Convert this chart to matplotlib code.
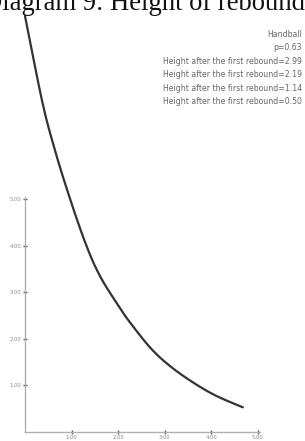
import matplotlib
matplotlib.use("Agg")
import matplotlib.pyplot as plt
import numpy as np

# data
x_vals = [0.0, 0.36, 0.6, 0.92, 1.3, 1.61, 2.0, 2.25, 2.7, 3.11, 3.6, 4.1, 4.68]
y_vals = [8.93, 7.14, 6.2, 5.15, 4.05, 3.35, 2.72, 2.36, 1.8, 1.42, 1.07, 0.78, 0.53]
tick_vals = [1, 2, 3, 4, 5]
tick_labels = ["1.00", "2.00", "3.00", "4.00", "5.00"]
legend_lines = ["Handball", "p=0.63",
                "Height after the first rebound=2.99",
                "Height after the first rebound=2.19",
                "Height after the first rebound=1.14",
                "Height after the first rebound=0.50"]
title = "Diagram 9: Height of rebound"


def smooth(xs, ys, n=20):
    """Catmull-Rom path through the read points (drawing only)."""
    p = np.column_stack([xs, ys]).astype(float)
    p = np.vstack([2 * p[0] - p[1], p, 2 * p[-1] - p[-2]])
    out = []
    t = np.linspace(0, 1, n, endpoint=False)[:, None]
    for i in range(1, len(p) - 2):
        p0, p1, p2, p3 = p[i - 1], p[i], p[i + 1], p[i + 2]
        seg = 0.5 * ((2 * p1) + (-p0 + p2) * t + (2 * p0 - 5 * p1 + 4 * p2 - p3) * t ** 2
                     + (-p0 + 3 * p1 - 3 * p2 + p3) * t ** 3)
        out.append(seg)
    out.append(p[-2][None, :])
    out = np.vstack(out)
    return out[:, 0], out[:, 1]


W, H = 305, 441
fig = plt.figure(figsize=(W / 100, H / 100), dpi=100)
ax = fig.add_axes([25 / W, 9 / H, 256 / W, 416 / H])
ax.set_xlim(0, 5.5)
ax.set_ylim(0, 8.93)
sx, sy = smooth(x_vals, y_vals)
ax.plot(sx, sy, color="#333333", lw=1.6, clip_on=False, solid_capstyle="round")

for s in ["top", "right"]:
    ax.spines[s].set_visible(False)
for s in ["left", "bottom"]:
    ax.spines[s].set_color("#b0b0b0")
    ax.spines[s].set_linewidth(1.0)
ax.spines["left"].set_bounds(0, 5.05)
ax.spines["bottom"].set_bounds(0, 5.05)
ax.set_xticks(tick_vals)
ax.set_xticklabels(tick_labels)
ax.set_yticks(tick_vals)
ax.set_yticklabels(tick_labels)
ax.tick_params(axis="both", direction="inout", length=3, width=1, color="#555555",
               labelsize=3.8, labelcolor="#888888", pad=1)

fig.text(-17 / W, 1 - 10 / H, title, ha="left", va="baseline",
         family="Liberation Serif", fontsize=19.2, color="#111111")

for i, t in enumerate(legend_lines):
    fig.text(302 / W, 1 - (37 + 13.4 * i) / H, t, ha="right", va="baseline",
             fontsize=5.6, color="#666666")

fig.savefig("out.png", dpi=100)
